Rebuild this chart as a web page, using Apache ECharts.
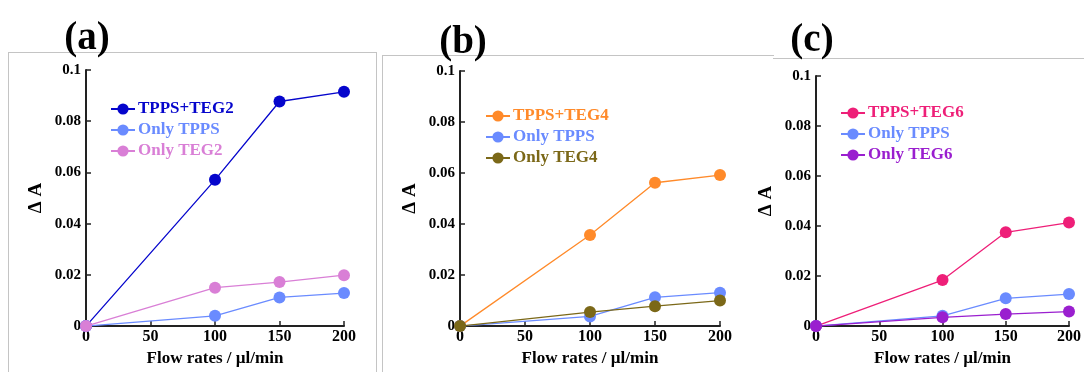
<!DOCTYPE html>
<html>
<head>
<meta charset="utf-8">
<script src="https://cdn.jsdelivr.net/npm/echarts@6/dist/echarts.min.js"></script>
<style>
  html, body { margin: 0; padding: 0; background: #fff; }
  #wrap { position: relative; width: 1084px; height: 372px; overflow: hidden; }
  .frame { position: absolute; border-color: #c4c4c4; border-style: solid; border-width: 0; }
  #chart { position: absolute; left: 0; top: 0; width: 1084px; height: 372px; }
</style>
</head>
<body>
<div id="wrap">
  <div class="frame" style="left:8px; top:52px; width:367px; height:330px; border-left-width:1px; border-top-width:1px; border-right-width:1px;"></div>
  <div class="frame" style="left:382px; top:55px; width:391px; height:330px; border-left-width:1px; border-top-width:1px;"></div>
  <div class="frame" style="left:773px; top:58px; width:320px; height:330px; border-top-width:1px;"></div>
  <div id="chart"></div>
</div>
<script>
// ---- data ----
const flowRates = [0, 100, 150, 200];
const xTicks = [0, 50, 100, 150, 200];
const yTicks = [0, 0.02, 0.04, 0.06, 0.08, 0.1];

const panelTitles = ['(a)', '(b)', '(c)'];

const tppsTeg2  = [0, 0.0571, 0.0877, 0.0915];
const onlyTppsA = [0, 0.0040, 0.0112, 0.0129];
const onlyTeg2  = [0, 0.0150, 0.0172, 0.0199];

const tppsTeg4  = [0, 0.0357, 0.0562, 0.0592];
const onlyTppsB = [0, 0.0038, 0.0113, 0.0131];
const onlyTeg4  = [0, 0.0055, 0.0078, 0.0100];

const tppsTeg6  = [0, 0.0184, 0.0375, 0.0414];
const onlyTppsC = [0, 0.0041, 0.0111, 0.0128];
const onlyTeg6  = [0, 0.0035, 0.0048, 0.0058];

const panels = [
  { names: ['TPPS+TEG2', 'Only TPPS', 'Only TEG2'], data: [tppsTeg2, onlyTppsA, onlyTeg2],
    colors: ['#0505cc', '#6a8bff', '#d97fd6'] },
  { names: ['TPPS+TEG4', 'Only TPPS', 'Only TEG4'], data: [tppsTeg4, onlyTppsB, onlyTeg4],
    colors: ['#ff8a2a', '#6a8bff', '#7b6818'] },
  { names: ['TPPS+TEG6', 'Only TPPS', 'Only TEG6'], data: [tppsTeg6, onlyTppsC, onlyTeg6],
    colors: ['#ee1f78', '#6a8bff', '#9a1fcf'] }
];

// ---- layout ----
const FONT = '"Liberation Serif", "DejaVu Serif", serif';
const grids = [
  { left: 86, top: 70, width: 258, height: 258 },
  { left: 460, top: 71, width: 260, height: 260 },
  { left: 816, top: 76, width: 257, height: 257 }
];
const titlePos = [ { x: 82, y: 14 }, { x: 458, y: 18 }, { x: 807, y: 16 } ];
const legendPos = [ { left: 110, top: 100 }, { left: 485, top: 107 }, { left: 840, top: 104 } ];

const chart = echarts.init(document.getElementById('chart'), null, { renderer: 'canvas' });

const axisLine = { show: true, onZero: false, lineStyle: { color: '#222', width: 2 } };
const option = {
  animation: false,
  backgroundColor: 'transparent',
  textStyle: { fontFamily: FONT },
  title: panelTitles.map((t, i) => ({
    text: t, left: titlePos[i].x, top: titlePos[i].y, textAlign: 'center',
    textStyle: { fontFamily: FONT, fontSize: 39, fontWeight: 'bold', color: '#000' }
  })),
  grid: grids.map(g => Object.assign({ containLabel: false }, g)),
  legend: panels.map((p, i) => ({
    orient: 'vertical', left: legendPos[i].left, top: legendPos[i].top,
    itemWidth: 24, itemHeight: 14, itemGap: 3, padding: 0,
    textStyle: { fontFamily: FONT, fontSize: 17, fontWeight: 'bold', lineHeight: 18, padding: [0, 0, 0, -2] },
    data: p.names.map((n, k) => ({ name: n, textStyle: { color: p.colors[k] } })),
    selectedMode: false
  })),
  xAxis: grids.map((g, i) => ({
    type: 'value', gridIndex: i, min: xTicks[0], max: xTicks[xTicks.length - 1], interval: 50,
    name: 'Flow rates / \u00b5l/min', nameLocation: 'middle', nameGap: 20,
    nameTextStyle: { fontFamily: FONT, fontSize: 17, fontWeight: 'bold', color: '#000' },
    axisLine: axisLine,
    axisTick: { show: true, inside: true, length: 5, lineStyle: { color: '#222', width: 1.5 } },
    axisLabel: { fontFamily: FONT, fontSize: 16, fontWeight: 'bold', color: '#000', margin: 3 },
    splitLine: { show: false }
  })),
  yAxis: grids.map((g, i) => ({
    type: 'value', gridIndex: i, min: yTicks[0], max: yTicks[yTicks.length - 1], interval: 0.02,
    name: '\u0394 A', nameLocation: 'middle', nameGap: 40, nameRotate: 90,
    nameTextStyle: { fontFamily: FONT, fontSize: 19, fontWeight: 'bold', color: '#000' },
    axisLine: axisLine,
    axisTick: { show: true, inside: true, length: 5, lineStyle: { color: '#222', width: 1.5 } },
    axisLabel: { fontFamily: FONT, fontSize: 15, fontWeight: 'bold', color: '#000', margin: 5,
      formatter: v => String(+v.toFixed(2)) },
    splitLine: { show: false }
  })),
  series: []
};

panels.forEach((p, i) => {
  p.names.forEach((n, k) => {
    option.series.push({
      type: 'line', name: n, xAxisIndex: i, yAxisIndex: i,
      data: flowRates.map((x, j) => [x, p.data[k][j]]),
      symbol: 'circle', symbolSize: 12, showSymbol: true,
      lineStyle: { color: p.colors[k], width: 1.3 },
      itemStyle: { color: p.colors[k] },
      z: 2 + k
    });
  });
});

chart.setOption(option);
</script>
</body>
</html>
